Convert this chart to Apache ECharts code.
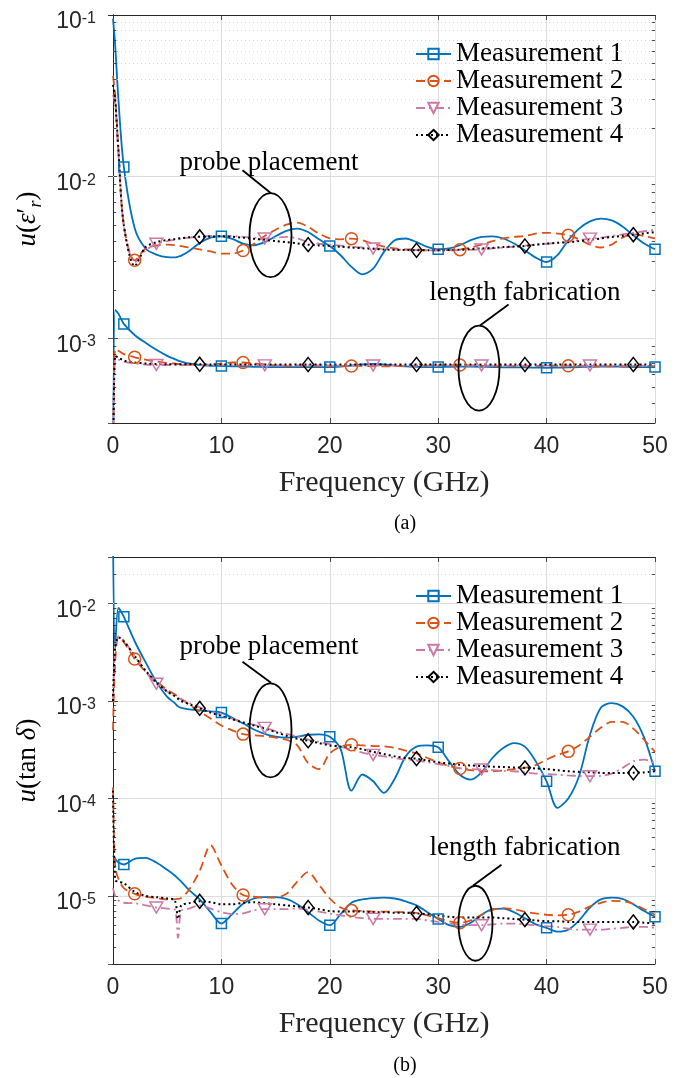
<!DOCTYPE html>
<html>
<head>
<meta charset="utf-8">
<script src="https://cdn.jsdelivr.net/npm/echarts@6/dist/echarts.min.js"></script>
<style>
  html, body { margin: 0; padding: 0; background: #fff; }
  #chart { width: 692px; height: 1078px; }
</style>
</head>
<body>
<div id="chart"></div>
<script>
// ── Data ──────────────────────────────────────────────────────────────
// frequency samples (GHz), shared by every curve
const freq = [0, 0.2, 0.5, 1, 2, 3, 4, 5, 5.7, 6, 6.3,
  7, 8, 9, 10, 11, 12, 13, 14, 15, 16, 17,
  18, 19, 20, 21, 22, 23, 24, 25, 26, 27, 28,
  29, 30, 31, 32, 33, 34, 35, 36, 37, 38, 39,
  40, 41, 42, 43, 44, 45, 46, 47, 48, 49, 50];

// (a) u(eps'_r) — probe placement group
const epsProbe1 = [0.095, 0.065, 0.03, 0.0115, 4.8e-3, 3.6e-3, 3.3e-3, 3.18e-3, 3.17e-3, 3.2e-3, 3.25e-3,
  3.46e-3, 3.89e-3, 4.2e-3, 4.28e-3, 4.13e-3, 3.86e-3, 3.77e-3, 3.94e-3, 4.28e-3, 4.62e-3, 4.78e-3,
  4.55e-3, 4.1e-3, 3.73e-3, 3.27e-3, 2.77e-3, 2.49e-3, 2.7e-3, 3.43e-3, 4.05e-3, 4.15e-3, 3.94e-3,
  3.68e-3, 3.56e-3, 3.6e-3, 3.77e-3, 4.05e-3, 4.24e-3, 4.28e-3, 4.15e-3, 3.86e-3, 3.5e-3, 3.16e-3,
  2.97e-3, 3.27e-3, 4.05e-3, 4.78e-3, 5.3e-3, 5.5e-3, 5.37e-3, 4.93e-3, 4.34e-3, 3.86e-3, 3.56e-3];
const epsProbe2 = [0.042, 0.032, 0.0146, 5e-3, 3.04e-3, 3.6e-3, 3.75e-3, 3.8e-3, 3.78e-3, 3.75e-3, 3.72e-3,
  3.65e-3, 3.55e-3, 3.45e-3, 3.35e-3, 3.35e-3, 3.5e-3, 3.85e-3, 4.3e-3, 4.7e-3, 5.05e-3, 5.2e-3,
  4.9e-3, 4.45e-3, 4.15e-3, 4.1e-3, 4.14e-3, 4.05e-3, 3.85e-3, 3.7e-3, 3.6e-3, 3.55e-3, 3.55e-3,
  3.5e-3, 3.5e-3, 3.52e-3, 3.54e-3, 3.65e-3, 3.8e-3, 4.0e-3, 4.15e-3, 4.25e-3, 4.3e-3, 4.45e-3,
  4.5e-3, 4.45e-3, 4.35e-3, 4.1e-3, 3.8e-3, 3.65e-3, 3.8e-3, 4.2e-3, 4.4e-3, 4.3e-3, 4.15e-3];
const epsProbe3 = [0.032, 0.028, 0.014, 5e-3, 2.95e-3, 3.5e-3, 3.85e-3, 4.0e-3, 4.07e-3, 4.1e-3, 4.13e-3,
  4.2e-3, 4.25e-3, 4.3e-3, 4.3e-3, 4.3e-3, 4.25e-3, 4.2e-3, 4.15e-3, 4.2e-3, 4.25e-3, 4.15e-3,
  3.95e-3, 3.85e-3, 3.8e-3, 3.75e-3, 3.7e-3, 3.65e-3, 3.6e-3, 3.58e-3, 3.55e-3, 3.53e-3, 3.52e-3,
  3.5e-3, 3.5e-3, 3.5e-3, 3.52e-3, 3.53e-3, 3.55e-3, 3.6e-3, 3.65e-3, 3.7e-3, 3.75e-3, 3.8e-3,
  3.85e-3, 3.9e-3, 3.95e-3, 4.05e-3, 4.14e-3, 4.2e-3, 4.3e-3, 4.4e-3, 4.5e-3, 4.6e-3, 4.7e-3];
const epsProbe4 = [0.037, 0.03, 0.0146, 5e-3, 2.8e-3, 3.67e-3, 3.94e-3, 4.06e-3, 4.12e-3, 4.15e-3, 4.17e-3,
  4.22e-3, 4.25e-3, 4.27e-3, 4.28e-3, 4.25e-3, 4.2e-3, 4.13e-3, 4.07e-3, 4.0e-3, 3.94e-3, 3.87e-3,
  3.8e-3, 3.76e-3, 3.73e-3, 3.69e-3, 3.65e-3, 3.61e-3, 3.58e-3, 3.55e-3, 3.53e-3, 3.52e-3, 3.51e-3,
  3.51e-3, 3.51e-3, 3.52e-3, 3.54e-3, 3.57e-3, 3.6e-3, 3.63e-3, 3.67e-3, 3.7e-3, 3.73e-3, 3.8e-3,
  3.86e-3, 3.9e-3, 3.94e-3, 4.0e-3, 4.07e-3, 4.15e-3, 4.24e-3, 4.31e-3, 4.38e-3, 4.46e-3, 4.55e-3];

// (a) u(eps'_r) — length fabrication group
const epsLength1 = [1e-4, 1.5e-3, 1.42e-3, 1.23e-3, 1.05e-3, 9.4e-4, 8.5e-4, 7.8e-4, 7.45e-4, 7.3e-4, 7.2e-4,
  7.0e-4, 6.85e-4, 6.78e-4, 6.75e-4, 6.72e-4, 6.7e-4, 6.68e-4, 6.66e-4, 6.65e-4, 6.65e-4, 6.65e-4,
  6.65e-4, 6.65e-4, 6.65e-4, 6.7e-4, 6.8e-4, 6.9e-4, 6.95e-4, 6.9e-4, 6.8e-4, 6.72e-4, 6.68e-4,
  6.65e-4, 6.65e-4, 6.68e-4, 6.7e-4, 6.7e-4, 6.68e-4, 6.65e-4, 6.63e-4, 6.62e-4, 6.62e-4, 6.6e-4,
  6.58e-4, 6.6e-4, 6.62e-4, 6.65e-4, 6.68e-4, 6.7e-4, 6.7e-4, 6.68e-4, 6.66e-4, 6.65e-4, 6.65e-4];
const epsLength2 = [1e-4, 8.6e-4, 8.4e-4, 8.0e-4, 7.65e-4, 7.4e-4, 7.2e-4, 7.05e-4, 7.0e-4, 6.95e-4, 6.92e-4,
  6.9e-4, 6.85e-4, 6.9e-4, 7.0e-4, 7.1e-4, 7.1e-4, 7.0e-4, 6.9e-4, 6.8e-4, 6.75e-4, 6.75e-4,
  6.75e-4, 6.75e-4, 6.75e-4, 6.75e-4, 6.76e-4, 6.75e-4, 6.72e-4, 6.72e-4, 6.74e-4, 6.76e-4, 6.78e-4,
  6.8e-4, 6.82e-4, 6.84e-4, 6.85e-4, 6.82e-4, 6.78e-4, 6.75e-4, 6.74e-4, 6.74e-4, 6.75e-4, 6.76e-4,
  6.77e-4, 6.78e-4, 6.78e-4, 6.76e-4, 6.74e-4, 6.72e-4, 6.72e-4, 6.72e-4, 6.73e-4, 6.74e-4, 6.75e-4];
const epsLength3 = [1e-4, 7.6e-4, 7.4e-4, 7.2e-4, 7.0e-4, 6.9e-4, 6.85e-4, 6.85e-4, 6.85e-4, 6.85e-4, 6.85e-4,
  6.85e-4, 6.85e-4, 6.84e-4, 6.83e-4, 6.82e-4, 6.82e-4, 6.82e-4, 6.82e-4, 6.82e-4, 6.82e-4, 6.82e-4,
  6.82e-4, 6.81e-4, 6.8e-4, 6.8e-4, 6.8e-4, 6.8e-4, 6.8e-4, 6.8e-4, 6.8e-4, 6.8e-4, 6.8e-4,
  6.8e-4, 6.8e-4, 6.8e-4, 6.8e-4, 6.8e-4, 6.8e-4, 6.8e-4, 6.8e-4, 6.8e-4, 6.8e-4, 6.8e-4,
  6.8e-4, 6.8e-4, 6.8e-4, 6.8e-4, 6.8e-4, 6.8e-4, 6.8e-4, 6.8e-4, 6.8e-4, 6.8e-4, 6.8e-4];
const epsLength4 = [1e-4, 7.8e-4, 7.6e-4, 7.3e-4, 7.1e-4, 7.0e-4, 6.95e-4, 6.92e-4, 6.92e-4, 6.92e-4, 6.92e-4,
  6.92e-4, 6.92e-4, 6.9e-4, 6.9e-4, 6.9e-4, 6.9e-4, 6.9e-4, 6.9e-4, 6.9e-4, 6.9e-4, 6.9e-4,
  6.9e-4, 6.9e-4, 6.9e-4, 6.9e-4, 6.9e-4, 6.9e-4, 6.9e-4, 6.9e-4, 6.9e-4, 6.9e-4, 6.9e-4,
  6.9e-4, 6.9e-4, 6.9e-4, 6.9e-4, 6.9e-4, 6.9e-4, 6.9e-4, 6.9e-4, 6.9e-4, 6.9e-4, 6.9e-4,
  6.9e-4, 6.9e-4, 6.9e-4, 6.9e-4, 6.9e-4, 6.9e-4, 6.9e-4, 6.9e-4, 6.9e-4, 6.9e-4, 6.9e-4];

// (b) u(tan delta) — probe placement group
const tanProbe1 = [0.05, 3.5e-3, 9e-3, 7.3e-3, 4.1e-3, 2.5e-3, 1.57e-3, 1.1e-3, 9.5e-4, 8.8e-4, 8.5e-4,
  8.2e-4, 8.0e-4, 7.8e-4, 7.6e-4, 6.7e-4, 5.9e-4, 5.1e-4, 4.6e-4, 4.3e-4, 4.2e-4, 4.3e-4,
  4.5e-4, 4.55e-4, 4.3e-4, 3.2e-4, 1.2e-4, 1.76e-4, 1.5e-4, 1.14e-4, 1.6e-4, 2.7e-4, 3.4e-4,
  3.5e-4, 3.35e-4, 2.4e-4, 1.75e-4, 1.56e-4, 1.85e-4, 2.6e-4, 3.3e-4, 3.7e-4, 3.4e-4, 2.4e-4,
  1.5e-4, 8e-5, 1e-4, 1.7e-4, 4.5e-4, 8.5e-4, 9.5e-4, 8.8e-4, 6.9e-4, 4.2e-4, 1.9e-4];
const tanProbe2 = [5e-4, 2.5e-3, 4.5e-3, 4.0e-3, 2.7e-3, 2.0e-3, 1.6e-3, 1.3e-3, 1.17e-3, 1.1e-3, 1.05e-3,
  9.2e-4, 7.8e-4, 6.6e-4, 5.6e-4, 5.0e-4, 4.57e-4, 4.45e-4, 4.35e-4, 4.2e-4, 4.0e-4, 3.5e-4,
  2.3e-4, 2.0e-4, 2.9e-4, 3.4e-4, 3.55e-4, 3.5e-4, 3.45e-4, 3.42e-4, 3.3e-4, 3.1e-4, 2.9e-4,
  2.6e-4, 2.35e-4, 2.15e-4, 2.03e-4, 1.95e-4, 1.9e-4, 1.9e-4, 1.93e-4, 2.0e-4, 2.06e-4, 2.2e-4,
  2.5e-4, 2.8e-4, 3.04e-4, 3.5e-4, 4.3e-4, 5.3e-4, 6.1e-4, 6.1e-4, 5.2e-4, 4.0e-4, 3.0e-4];
const tanProbe3 = [1e-3, 3.5e-3, 4.6e-3, 4.2e-3, 2.9e-3, 2.0e-3, 1.5e-3, 1.25e-3, 1.13e-3, 1.08e-3, 1.04e-3,
  9.6e-4, 8.6e-4, 7.8e-4, 7.2e-4, 6.6e-4, 6.1e-4, 5.7e-4, 5.3e-4, 4.9e-4, 4.6e-4, 4.3e-4,
  4.0e-4, 3.8e-4, 3.6e-4, 3.4e-4, 3.15e-4, 2.95e-4, 2.8e-4, 2.7e-4, 2.6e-4, 2.5e-4, 2.45e-4,
  2.35e-4, 2.25e-4, 2.15e-4, 2.05e-4, 2.0e-4, 1.98e-4, 1.95e-4, 1.92e-4, 1.9e-4, 1.85e-4, 1.8e-4,
  1.78e-4, 1.75e-4, 1.72e-4, 1.7e-4, 1.69e-4, 1.7e-4, 1.8e-4, 2.05e-4, 2.4e-4, 2.5e-4, 2.3e-4];
const tanProbe4 = [1e-3, 3.5e-3, 4.5e-3, 4.1e-3, 2.9e-3, 2.05e-3, 1.55e-3, 1.25e-3, 1.12e-3, 1.05e-3, 1.0e-3,
  9.3e-4, 8.4e-4, 7.6e-4, 7.0e-4, 6.5e-4, 6.0e-4, 5.6e-4, 5.2e-4, 4.8e-4, 4.4e-4, 4.1e-4,
  3.9e-4, 3.7e-4, 3.5e-4, 3.4e-4, 3.35e-4, 3.2e-4, 3.0e-4, 2.85e-4, 2.7e-4, 2.6e-4, 2.56e-4,
  2.45e-4, 2.35e-4, 2.28e-4, 2.22e-4, 2.18e-4, 2.15e-4, 2.12e-4, 2.1e-4, 2.08e-4, 2.06e-4, 2.03e-4,
  2.0e-4, 1.95e-4, 1.9e-4, 1.87e-4, 1.85e-4, 1.83e-4, 1.82e-4, 1.82e-4, 1.83e-4, 1.85e-4, 1.9e-4];

// (b) u(tan delta) — length fabrication group
const tanLength1 = [2.6e-5, 2.4e-5, 2.2e-5, 2.1e-5, 2.4e-5, 2.45e-5, 2.2e-5, 1.85e-5, 1.62e-5, 1.5e-5, 1.4e-5,
  1.15e-5, 9.2e-6, 6.8e-6, 5.2e-6, 6.5e-6, 8.3e-6, 9.4e-6, 9.7e-6, 9.7e-6, 9.3e-6, 8.2e-6,
  6.8e-6, 5.6e-6, 5.0e-6, 6.5e-6, 8.5e-6, 9.2e-6, 9.5e-6, 9.6e-6, 9.4e-6, 8.8e-6, 8.0e-6,
  6.8e-6, 5.8e-6, 5.0e-6, 4.8e-6, 5.3e-6, 6.4e-6, 7.3e-6, 7.4e-6, 6.8e-6, 5.9e-6, 5.1e-6,
  4.7e-6, 4.3e-6, 4.5e-6, 5.6e-6, 7.6e-6, 9.2e-6, 9.6e-6, 9.3e-6, 8.2e-6, 7.0e-6, 6.1e-6];
const tanLength2 = [1.3e-4, 2e-5, 1.5e-5, 1.2e-5, 1.05e-5, 9.8e-6, 9.5e-6, 9.2e-6, 9.2e-6, 9.3e-6, 9.5e-6,
  1.15e-5, 1.8e-5, 3.3e-5, 2.05e-5, 1.3e-5, 1.02e-5, 9.8e-6, 9.6e-6, 9.6e-6, 1.05e-5, 1.4e-5,
  1.75e-5, 1.3e-5, 9.4e-6, 7.6e-6, 7.1e-6, 7.0e-6, 6.9e-6, 6.9e-6, 6.85e-6, 6.8e-6, 6.7e-6,
  6.3e-6, 5.9e-6, 5.5e-6, 5.3e-6, 5.6e-6, 6.4e-6, 7.2e-6, 7.5e-6, 7.3e-6, 6.9e-6, 6.6e-6,
  6.4e-6, 6.3e-6, 6.4e-6, 6.9e-6, 7.8e-6, 8.5e-6, 8.9e-6, 8.8e-6, 8.3e-6, 7.3e-6, 6.4e-6];
const tanLength3 = [1.2e-5, 1.0e-5, 9.0e-6, 8.5e-6, 8.4e-6, 8.0e-6, 7.6e-6, 7.4e-6, 7.2e-6, 3.7e-6, 7.0e-6,
  7.4e-6, 8.0e-6, 7.4e-6, 6.8e-6, 6.5e-6, 6.6e-6, 7.1e-6, 7.3e-6, 7.3e-6, 7.3e-6, 7.4e-6,
  7.2e-6, 6.9e-6, 6.6e-6, 6.3e-6, 6.1e-6, 5.9e-6, 5.8e-6, 5.8e-6, 5.8e-6, 5.8e-6, 5.8e-6,
  5.6e-6, 5.4e-6, 5.2e-6, 5.1e-6, 5.0e-6, 5.0e-6, 5.1e-6, 5.2e-6, 5.2e-6, 5.1e-6, 5.0e-6,
  4.9e-6, 4.8e-6, 4.6e-6, 4.5e-6, 4.5e-6, 4.5e-6, 4.6e-6, 4.7e-6, 4.8e-6, 4.8e-6, 4.7e-6];
const tanLength4 = [1.2e-4, 1.45e-5, 1.4e-5, 1.35e-5, 1.1e-5, 1.0e-5, 9.7e-6, 9.4e-6, 9.0e-6, 5.8e-6, 8.0e-6,
  8.4e-6, 8.8e-6, 8.6e-6, 8.2e-6, 8.2e-6, 8.5e-6, 8.6e-6, 8.4e-6, 8.2e-6, 8.0e-6, 7.8e-6,
  7.6e-6, 7.3e-6, 7.0e-6, 6.9e-6, 6.9e-6, 6.9e-6, 6.8e-6, 6.8e-6, 6.7e-6, 6.7e-6, 6.6e-6,
  6.5e-6, 6.3e-6, 6.1e-6, 6.0e-6, 6.0e-6, 6.0e-6, 6.0e-6, 5.9e-6, 5.8e-6, 5.7e-6, 5.6e-6,
  5.5e-6, 5.5e-6, 5.4e-6, 5.4e-6, 5.4e-6, 5.4e-6, 5.4e-6, 5.4e-6, 5.4e-6, 5.3e-6, 5.2e-6];

// frequencies where each measurement shows its marker
const markerFreq1 = [1, 10, 20, 30, 40, 50];
const markerFreq2 = [2, 12, 22, 32, 42];
const markerFreq3 = [4, 14, 24, 34, 44];
const markerFreq4 = [8, 18, 28, 38, 48];

const seriesNames = ['Measurement 1', 'Measurement 2', 'Measurement 3', 'Measurement 4'];
const xTicks = [0, 10, 20, 30, 40, 50];

// ── Styles ────────────────────────────────────────────────────────────
const axisColor = '#262626';
const majorGrid = '#dedede';
const minorGrid = '#d6d6d6';
const sansFont = '"Liberation Sans", Arial, sans-serif';
const serifFont = '"Liberation Serif", "Times New Roman", serif';

const lineStyles = [
  { color: '#0072BD', dash: 'solid', width: 1.8, symbol: 'rect', size: 10 },
  { color: '#D95319', dash: [9, 5], width: 1.8, symbol: 'circle', size: 12 },
  { color: '#CC79A7', dash: [9, 4, 2, 4], width: 1.8, symbol: 'path://M0,0L12,0L6,10Z', size: [13, 11] },
  { color: '#000000', dash: [2, 3], width: 2, symbol: 'diamond', size: [11, 14] },
];
const markerSets = [markerFreq1, markerFreq2, markerFreq3, markerFreq4];

// axis limits (log axes)
const yRangeA = [3e-4, 0.1];
const yRangeB = [2e-6, 3e-2];

// ── Helpers ───────────────────────────────────────────────────────────
function makeSeries(k, values, axisIndex) {
  const st = lineStyles[k];
  const marks = markerSets[k];
  return {
    type: 'line',
    name: seriesNames[k],
    xAxisIndex: axisIndex,
    yAxisIndex: axisIndex,
    data: freq.map((f, i) => marks.includes(f)
      ? [f, values[i]]
      : { value: [f, values[i]], symbol: 'none' }),
    symbol: st.symbol,
    symbolSize: st.size,
    showSymbol: true,
    showAllSymbol: true,
    smooth: 0.3,
    clip: true,
    silent: true,
    animation: false,
    lineStyle: { color: st.color, width: st.width, type: st.dash },
    itemStyle: { color: 'rgba(255,255,255,0)', borderColor: st.color, borderWidth: 1.5 },
    emphasis: { disabled: true },
  };
}

function minorValues(range) {
  const out = [];
  const lo = Math.floor(Math.log10(range[0]));
  const hi = Math.ceil(Math.log10(range[1]));
  for (let e = lo; e < hi; e++) {
    for (let m = 2; m <= 9; m++) {
      const v = m * Math.pow(10, e);
      if (v > range[0] * 1.0001 && v < range[1] * 0.9999) out.push(v);
    }
  }
  return out;
}

function minorMarkLine(range) {
  const vals = minorValues(range);
  const data = [];
  vals.forEach(v => {
    data.push({ yAxis: v, lineStyle: { color: minorGrid, type: [1, 3], width: 1 } });
    data.push([{ coord: [0, v] }, { coord: [0.3, v], lineStyle: { color: axisColor, type: 'solid', width: 0.8 } }]);
    data.push([{ coord: [49.7, v] }, { coord: [50, v], lineStyle: { color: axisColor, type: 'solid', width: 0.8 } }]);
  });
  return {
    silent: true, animation: false, symbol: ['none', 'none'],
    label: { show: false }, emphasis: { disabled: true },
    lineStyle: { color: axisColor, type: 'solid', width: 0.8 },
    data,
  };
}

function decadeLabel(v) {
  const lg = Math.log10(v);
  const e = Math.round(lg);
  if (Math.abs(lg - e) > 1e-6) return '';
  return '{b|10}{s|' + e + '}';
}

function xAxisPair(gridIndex) {
  const common = {
    type: 'value', gridIndex, min: 0, max: 50, interval: 10,
    axisLine: { show: true, onZero: false, lineStyle: { color: axisColor, width: 1 } },
    axisTick: { show: true, inside: true, length: 5, lineStyle: { color: axisColor, width: 0.8 } },
  };
  return [
    Object.assign({}, common, {
      position: 'bottom',
      axisLabel: { color: axisColor, fontFamily: sansFont, fontSize: 23, margin: 12,
                   formatter: v => xTicks.includes(v) ? String(v) : '' },
      splitLine: { show: true, lineStyle: { color: majorGrid, width: 1 } },
      name: 'Frequency (GHz)', nameLocation: 'middle', nameGap: 45,
      nameTextStyle: { fontFamily: serifFont, fontSize: 30, color: axisColor },
    }),
    Object.assign({}, common, {
      position: 'top',
      axisLabel: { show: false }, splitLine: { show: false },
    }),
  ];
}

function yAxisPair(gridIndex, range, nameText, nameRich) {
  const common = {
    type: 'log', logBase: 10, gridIndex, min: range[0], max: range[1],
    axisLine: { show: true, lineStyle: { color: axisColor, width: 1 } },
    axisTick: { show: true, inside: true, length: 5, lineStyle: { color: axisColor, width: 0.8 } },
  };
  return [
    Object.assign({}, common, {
      position: 'left',
      axisLabel: {
        color: axisColor, margin: 17, formatter: decadeLabel, padding: [14, 0, 0, 0],
        rich: {
          b: { fontFamily: sansFont, fontSize: 23, lineHeight: 23, color: axisColor },
          s: { fontFamily: sansFont, fontSize: 16, lineHeight: 16, verticalAlign: 'top', color: axisColor },
        },
      },
      splitLine: { show: true, lineStyle: { color: majorGrid, width: 1 } },
      name: nameText, nameLocation: 'middle', nameGap: 57, nameRotate: 90,
      nameTextStyle: Object.assign({ fontFamily: serifFont, fontSize: 27, color: '#000', lineHeight: 34 }, { rich: nameRich }),
    }),
    Object.assign({}, common, {
      position: 'right',
      axisLabel: { show: false }, splitLine: { show: false },
    }),
  ];
}

const richName = {
  i: { fontFamily: serifFont, fontStyle: 'italic', fontSize: 27, lineHeight: 34, color: '#000' },
  n: { fontFamily: serifFont, fontSize: 27, lineHeight: 34, color: '#000' },
  sub: { fontFamily: serifFont, fontStyle: 'italic', fontSize: 18, lineHeight: 18, verticalAlign: 'bottom', color: '#000' },
};

// ── Chart ─────────────────────────────────────────────────────────────
const chart = echarts.init(document.getElementById('chart'), null, { renderer: 'canvas' });

const series = [];
[epsProbe1, epsProbe2, epsProbe3, epsProbe4].forEach((v, k) => series.push(makeSeries(k, v, 0)));
[epsLength1, epsLength2, epsLength3, epsLength4].forEach((v, k) => series.push(makeSeries(k, v, 0)));
[tanProbe1, tanProbe2, tanProbe3, tanProbe4].forEach((v, k) => series.push(makeSeries(k, v, 2)));
[tanLength1, tanLength2, tanLength3, tanLength4].forEach((v, k) => series.push(makeSeries(k, v, 2)));
series[0].markLine = minorMarkLine(yRangeA);
series[8].markLine = minorMarkLine(yRangeB);

const legendBase = {
  data: seriesNames, orient: 'vertical', left: 410, itemWidth: 35, itemHeight: 13, itemGap: 0,
  selectedMode: false,
  textStyle: { fontFamily: serifFont, fontSize: 27, color: '#000', lineHeight: 26, padding: [0, 0, 0, 0] },
};

chart.setOption({
  animation: false,
  backgroundColor: '#fff',
  grid: [
    { left: 113, top: 15, width: 542, height: 408, containLabel: false, outerBoundsMode: 'none' },
    { left: 113, top: 557, width: 542, height: 407, containLabel: false, outerBoundsMode: 'none' },
  ],
  xAxis: [...xAxisPair(0), ...xAxisPair(1)],
  yAxis: [
    ...yAxisPair(0, yRangeA, '{i|u}{n|(}{i|ε}{n|′}{sub|r}{n|)}', richName),
    ...yAxisPair(1, yRangeB, '{i|u}{n|(tan }{i|δ}{n|)}', richName),
  ],
  legend: [
    Object.assign({}, legendBase, { top: 35.5 }),
    Object.assign({}, legendBase, { top: 577.5 }),
  ],
  series,
});

// ── Annotations (ellipse + leader line + label), anchored in data coords ──
const notes = [
  { axis: 0, label: 'probe placement',    at: [14.53, 4.35e-3], rx: 21,   ry: 42,   from: [-28, -65],   to: [0.5, -42],   text: [-1.5, -72] },
  { axis: 0, label: 'length fabrication', at: [33.76, 6.56e-4], rx: 20.5, ry: 42.5, from: [29.6, -63.5], to: [1, -42.5],  text: [46, -75] },
  { axis: 2, label: 'probe placement',    at: [14.53, 5.0e-4],  rx: 21,   ry: 47,   from: [-28, -68.5], to: [0.5, -47.5], text: [-1.5, -83.5] },
  { axis: 2, label: 'length fabrication', at: [33.44, 5.24e-6], rx: 17,   ry: 37.5, from: [26, -58.5],  to: [-2.6, -37.5], text: [49.5, -75] },
];

const graphics = [];
notes.forEach(n => {
  const p = chart.convertToPixel({ xAxisIndex: n.axis, yAxisIndex: n.axis }, n.at);
  graphics.push({
    type: 'ellipse', silent: true, z: 50,
    shape: { cx: p[0], cy: p[1], rx: n.rx, ry: n.ry },
    style: { fill: 'none', stroke: '#000', lineWidth: 1.8 },
  });
  graphics.push({
    type: 'line', silent: true, z: 50,
    shape: { x1: p[0] + n.from[0], y1: p[1] + n.from[1], x2: p[0] + n.to[0], y2: p[1] + n.to[1] },
    style: { stroke: '#000', lineWidth: 1.8 },
  });
  graphics.push({
    type: 'text', silent: true, z: 50,
    x: p[0] + n.text[0], y: p[1] + n.text[1],
    style: { text: n.label, fontFamily: serifFont, fontSize: 27, fill: '#000', align: 'center', verticalAlign: 'middle' },
  });
});
graphics.push({ type: 'text', silent: true, x: 405, y: 524,
  style: { text: '(a)', fontFamily: serifFont, fontSize: 20, fill: '#000', align: 'center', verticalAlign: 'middle' } });
graphics.push({ type: 'text', silent: true, x: 405, y: 1066,
  style: { text: '(b)', fontFamily: serifFont, fontSize: 20, fill: '#000', align: 'center', verticalAlign: 'middle' } });

chart.setOption({ graphic: graphics });
</script>
</body>
</html>
